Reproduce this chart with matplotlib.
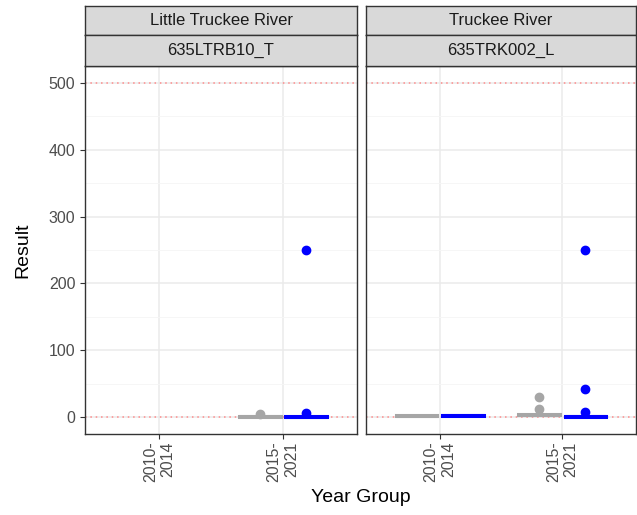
import numpy as np
import matplotlib.pyplot as plt

plt.rcParams['font.family'] = ['Liberation Sans', 'DejaVu Sans']

# data
rivers = ['Little Truckee River', 'Truckee River']
stations = ['635LTRB10_T', '635TRK002_L']
year_groups = ['2010-\n2014', '2015-\n2021']
series_colors = ['#A6A6A6', '#0000FF']

# box stats per panel: (year group index, series index, q1, median, q3, whislo, whishi, fliers)
panel_stats = [
    [(1, 0, 1.0, 1.5, 2.0, 1.0, 2.0, [5]),
     (1, 1, 0.5, 1.0, 1.5, 0.5, 1.5, [7, 250])],
    [(0, 0, 2.0, 2.5, 3.0, 2.0, 3.0, []),
     (0, 1, 2.5, 3.0, 3.5, 2.5, 3.5, []),
     (1, 0, 3.0, 3.5, 4.5, 3.0, 4.5, [12, 31]),
     (1, 1, 1.0, 1.5, 2.0, 1.0, 2.0, [8.5, 42, 250])],
]
ref_lines = [0, 500]

fig = plt.figure(figsize=(6.37, 5.15), dpi=100)
W, H = 637, 515
panels_x = [(85, 357), (366, 636)]
pt, pb = 66, 434
gray30 = '#4D4D4D'

for p in range(2):
    x0, x1 = panels_x[p]
    ax = fig.add_axes([x0 / W, 1 - pb / H, (x1 - x0) / W, (pb - pt) / H])
    ax.set_xlim(0.4, 2.6)
    ax.set_ylim(-25, 525)
    ax.set_yticks([0, 100, 200, 300, 400, 500])
    ax.set_yticks([50, 150, 250, 350, 450], minor=True)
    ax.grid(True, which='major', color='#EBEBEB', lw=1.1, zorder=0)
    ax.grid(True, which='minor', axis='y', color='#F5F5F5', lw=0.6, zorder=0)
    ax.set_axisbelow(True)
    for s in ax.spines.values():
        s.set_color('#333333')
        s.set_linewidth(1.0)
    ax.tick_params(which='minor', length=0)
    ax.tick_params(which='major', length=3.5, color='#333333', labelsize=11.5, labelcolor=gray30)
    if p == 0:
        ax.set_ylabel('Result', fontsize=14, labelpad=12)
    else:
        ax.set_yticklabels([])
        ax.tick_params(axis='y', length=0)
    for y in ref_lines:
        ax.axhline(y, color='#FF8080', lw=1.1, ls=(0, (1, 2.5)), alpha=0.9, zorder=1)

    for gi, si, q1, med, q3, lo, hi, fl in panel_stats[p]:
        pos = gi + 1 + (-0.1875 if si == 0 else 0.1875)
        st = dict(q1=q1, med=med, q3=q3, whislo=lo, whishi=hi, fliers=fl)
        c = series_colors[si]
        ax.bxp([st], positions=[pos], widths=0.34, patch_artist=True,
               boxprops=dict(facecolor='white', edgecolor=c, lw=2.2),
               medianprops=dict(color=c, lw=2.2),
               whiskerprops=dict(color=c, lw=0),
               capprops=dict(color=c, lw=0),
               flierprops=dict(marker='o', markerfacecolor=c, markeredgecolor=c, markersize=6),
               zorder=3)
    ax.set_xticks([1, 2])
    ax.set_xticklabels(year_groups, rotation=90, va='top', ha='center', ma='right')
    ax.tick_params(axis='x', labelsize=11.5, labelcolor=gray30, pad=2)

    # strips
    for txt, top, bot in [(rivers[p], 6, 35), (stations[p], 35, 66)]:
        sax = fig.add_axes([x0 / W, 1 - bot / H, (x1 - x0) / W, (bot - top) / H])
        sax.set_xticks([])
        sax.set_yticks([])
        sax.set_facecolor('#D9D9D9')
        for s in sax.spines.values():
            s.set_color('#333333')
            s.set_linewidth(1.0)
        sax.text(0.5, 0.5, txt, ha='center', va='center', fontsize=12, color='#1A1A1A',
                 transform=sax.transAxes)

fig.text((85 + 636) / 2 / W, 1 - 497 / H, 'Year Group', ha='center', va='center', fontsize=14)
fig.savefig('out.png', dpi=100, facecolor='white')
